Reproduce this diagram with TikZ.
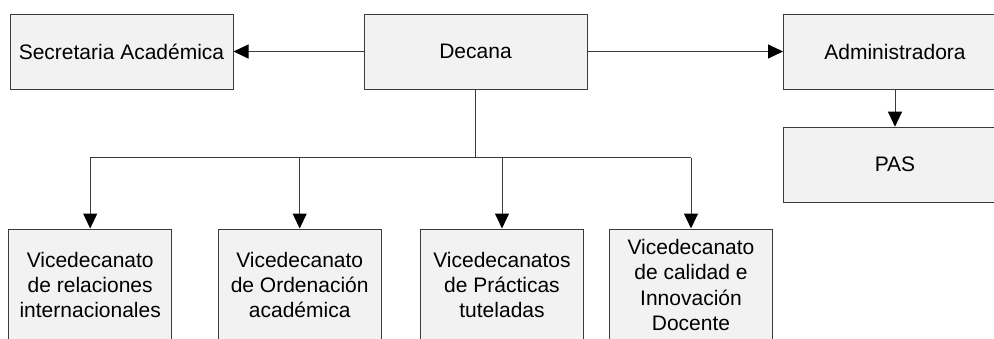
\documentclass[tikz,border=0pt]{standalone}
\usepackage{fontspec}
\setmainfont{Liberation Sans}
\usetikzlibrary{arrows.meta}
\definecolor{boxfill}{HTML}{F2F2F2}
\definecolor{linecol}{HTML}{3A3A3A}
\begin{document}
\begin{tikzpicture}[x=1pt,y=-1pt,
  orgbox/.style={draw=linecol,fill=boxfill,line width=1pt,rectangle,inner sep=0pt,
    minimum width=223pt,minimum height=75pt,align=center,
    font=\fontsize{21}{25.3}\selectfont},
  vicebox/.style={orgbox,minimum width=163pt,minimum height=112pt},
  conn/.style={draw=linecol,line width=1pt},
  arr/.style={conn,-{Triangle[length=15pt,width=14pt,color=black]}}]
\useasboundingbox (0,0) rectangle (994,338);
\node[orgbox] (sec) at (121.5,51.5) {Secretaria Académica};
\node[orgbox] (dec) at (475.5,51.5) {Decana};
\node[orgbox] (adm) at (895,51.5) {Administradora};
\node[orgbox] (pas) at (895,164.7) {PAS};
\node[vicebox] (v1) at (90.2,285) {Vicedecanato\\de relaciones\\internacionales};
\node[vicebox] (v2) at (299.7,285) {Vicedecanato\\de Ordenación\\académica};
\node[vicebox] (v3) at (502,285) {Vicedecanatos\\de Prácticas\\tuteladas};
\node[vicebox] (v4) at (691,285) {Vicedecanato\\de calidad e\\Innovación\\Docente};
\coordinate (bus) at (0,157.7);
\draw[arr] (dec.west) -- (sec.east);
\draw[arr] (dec.east) -- (adm.west);
\draw[arr] (adm.south) -- (pas.north);
\draw[conn] (dec.south) -- (dec.south |- bus);
\draw[conn] (v1.north |- bus) -- (v4.north |- bus);
\draw[arr] (v1.north |- bus) -- (v1.north);
\draw[arr] (v2.north |- bus) -- (v2.north);
\draw[arr] (v3.north |- bus) -- (v3.north);
\draw[arr] (v4.north |- bus) -- (v4.north);
\end{tikzpicture}
\end{document}
